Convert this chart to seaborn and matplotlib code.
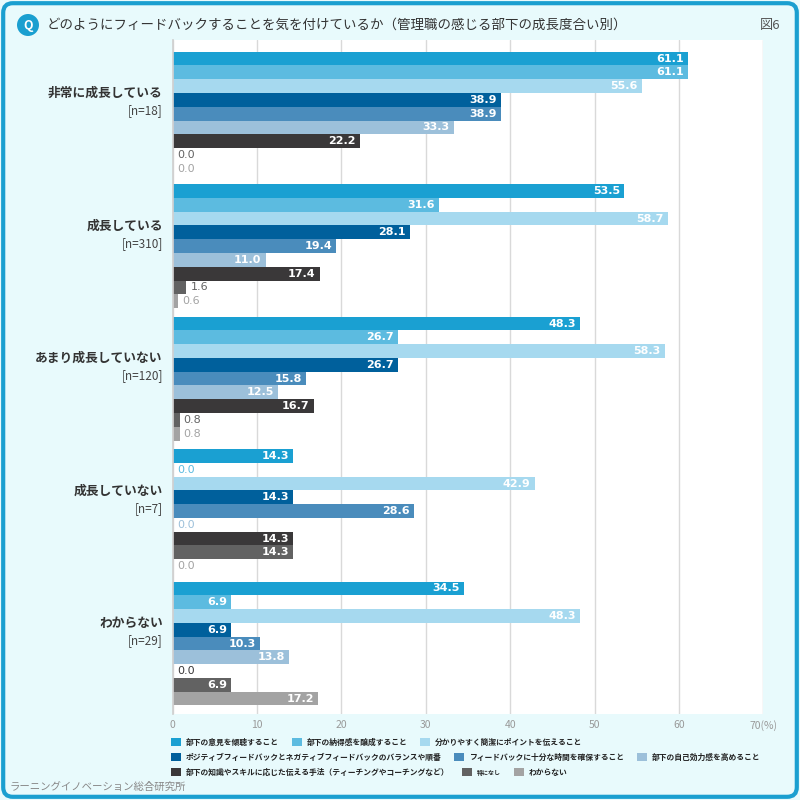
import numpy as np
import pandas as pd
import seaborn as sns
import matplotlib.pyplot as plt
from matplotlib.patches import FancyBboxPatch, Circle, Patch

# --- data -------------------------------------------------------------
groups = ["非常に成長している", "成長している", "あまり成長していない", "成長していない", "わからない"]
group_n = ["[n=18]", "[n=310]", "[n=120]", "[n=7]", "[n=29]"]

items = [
    "部下の意見を傾聴すること",
    "部下の納得感を醸成すること",
    "分かりやすく簡潔にポイントを伝えること",
    "ポジティブフィードバックとネガティブフィードバックのバランスや順番",
    "フィードバックに十分な時間を確保すること",
    "部下の自己効力感を高めること",
    "部下の知識やスキルに応じた伝える手法（ティーチングやコーチングなど）",
    "特になし",
    "わからない",
]

vals_very = [61.1, 61.1, 55.6, 38.9, 38.9, 33.3, 22.2, 0.0, 0.0]
vals_grow = [53.5, 31.6, 58.7, 28.1, 19.4, 11.0, 17.4, 1.6, 0.6]
vals_little = [48.3, 26.7, 58.3, 26.7, 15.8, 12.5, 16.7, 0.8, 0.8]
vals_none = [14.3, 0.0, 42.9, 14.3, 28.6, 0.0, 14.3, 14.3, 0.0]
vals_unknown = [34.5, 6.9, 48.3, 6.9, 10.3, 13.8, 0.0, 6.9, 17.2]

colors = ["#1aa0d2", "#5cbbe0", "#a6d9ef", "#00609c", "#4a8cbc",
          "#9cc0da", "#3a3839", "#626262", "#a3a3a3"]

all_vals = [vals_very, vals_grow, vals_little, vals_none, vals_unknown]
rows = []
for g, vals in zip(groups, all_vals):
    for it, v in zip(items, vals):
        rows.append({"group": g, "item": it, "value": v})
df = pd.DataFrame(rows)

# --- figure -------------------------------------------------------------
sns.set_theme(style="white")
plt.rcParams['font.family'] = ['Noto Sans CJK JP', 'DejaVu Sans']

bg = "#e8fafc"
fig = plt.figure(figsize=(8, 8), dpi=100)
fig.patch.set_facecolor(bg)
fig.patches.append(FancyBboxPatch((0.004, 0.004), 0.992, 0.992,
                                  boxstyle="round,pad=0,rounding_size=0.012",
                                  transform=fig.transFigure, fill=False,
                                  edgecolor="#1a9fd0", linewidth=3))

ax = fig.add_axes([0.216, 0.107, 0.738, 0.843])
ax.set_facecolor("white")

sns.barplot(data=df, y="group", x="value", hue="item", order=groups,
            hue_order=items, palette=colors, orient="h", width=0.935,
            gap=0, saturation=1, legend=False, ax=ax, linewidth=0)

ax.set_xlim(0, 70)
ax.set_ylim(4.535, -0.556)
ax.set_xticks(range(0, 71, 10))
ax.set_xticklabels([str(t) for t in range(0, 61, 10)] + ["70(%)"])
ax.tick_params(axis="x", length=0, labelsize=7.5, labelcolor="#999999", pad=4)
ax.set_yticks([])
ax.set_xlabel("")
ax.set_ylabel("")
ax.grid(axis="x", color="#d9d9d9", linewidth=1)
ax.set_axisbelow(True)
for s in ["top", "right", "bottom"]:
    ax.spines[s].set_visible(False)
ax.spines["left"].set_color("#d0d0d0")

# value labels
for cont, col in zip(ax.containers, colors):
    for p in cont:
        w = p.get_width()
        yc = p.get_y() + p.get_height() / 2
        if w >= 3:
            ax.annotate(f"{w:.1f}", (w, yc), xytext=(-3, 0), textcoords="offset points",
                        ha="right", va="center", color="white", fontsize=8,
                        fontweight="bold", family="DejaVu Sans")
        else:
            ax.annotate(f"{w:.1f}", (w, yc), xytext=(3, 0), textcoords="offset points",
                        ha="left", va="center", color=col, fontsize=8,
                        family="DejaVu Sans")

# group labels on the left
for i, (g, n) in enumerate(zip(groups, group_n)):
    ax.annotate(g, (0, i), xytext=(-10, 20), textcoords="offset pixels",
                ha="right", va="center", fontsize=9.2, fontweight="bold",
                color="#333333")
    ax.annotate(n, (0, i), xytext=(-10, 3), textcoords="offset pixels",
                ha="right", va="center", fontsize=8.5, color="#444444")

# title
fig.patches.append(Circle((28 / 800, 1 - 25 / 800), 11 / 800, transform=fig.transFigure,
                          facecolor="#1a9fd0", edgecolor="none"))
fig.text(28 / 800, 1 - 25 / 800, "Q", ha="center", va="center", color="white",
         fontsize=9, fontweight="bold")
fig.text(47 / 800, 1 - 25 / 800,
         "どのようにフィードバックすることを気を付けているか（管理職の感じる部下の成長度合い別）",
         ha="left", va="center", fontsize=9.7, color="#333333")
fig.text(780 / 800, 1 - 25 / 800, "図6", ha="right", va="center", fontsize=9.5,
         color="#555555")

# legend, three rows
handles = [Patch(facecolor=c, edgecolor="none") for c in colors]
row_y = [1 - 742 / 800, 1 - 757 / 800, 1 - 772 / 800]
for r in range(3):
    leg = fig.legend(handles[r * 3:(r + 1) * 3], items[r * 3:(r + 1) * 3],
                     loc="center left", bbox_to_anchor=(171 / 800, row_y[r]), ncol=3,
                     frameon=False, prop={"size": 5.6, "weight": "bold"},
                     handlelength=1.3, handleheight=1.3,
                     handletextpad=0.65, columnspacing=1.6, borderpad=0,
                     borderaxespad=0, labelcolor="#222222")
    if r == 2:
        leg.get_texts()[1].set_fontsize(4.3)

fig.text(10 / 800, 1 - 787 / 800, "ラーニングイノベーション総合研究所",
         ha="left", va="center", fontsize=7.5, color="#888888")

fig.savefig("out.png", dpi=100, facecolor=bg)
